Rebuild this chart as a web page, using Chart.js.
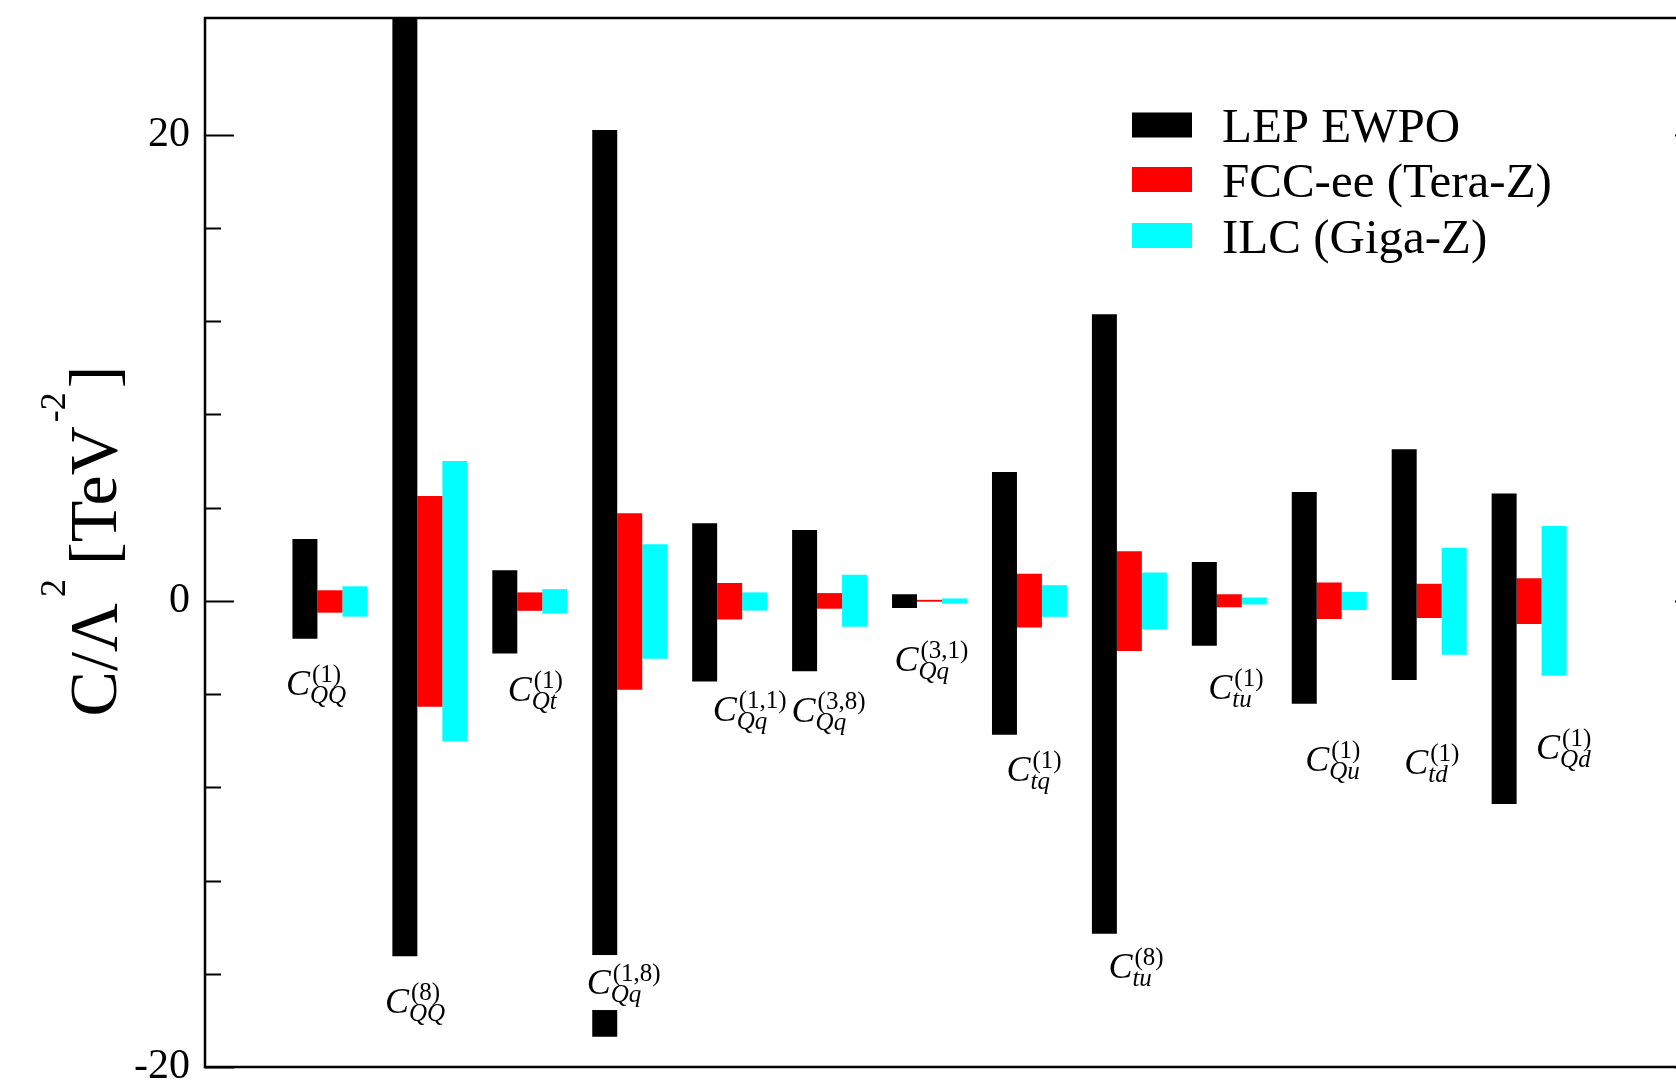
<!DOCTYPE html>
<html lang="en">
<head>
<meta charset="UTF-8" />
<title>Four-quark operator bounds</title>
<script src="https://cdn.jsdelivr.net/npm/chart.js"></script>
<style>
  html, body { margin: 0; padding: 0; background: #fff; overflow: hidden; }
  #wrap { width: 1705px; height: 1083px; }
</style>
</head>
<body>
<div id="wrap"><canvas id="bounds" width="1705" height="1083"></canvas></div>
<script>
// operators, written as C^{sup}_{sub}
const opSup = ['(1)', '(8)', '(1)', '(1,8)', '(1,1)', '(3,8)', '(3,1)', '(1)', '(8)', '(1)', '(1)', '(1)', '(1)'];
const opSub = ['QQ', 'QQ', 'Qt', 'Qq', 'Qq', 'Qq', 'Qq', 'tq', 'tu', 'tu', 'Qu', 'td', 'Qd'];

const seriesNames = ['LEP EWPO', 'FCC-ee (Tera-Z)', 'ILC (Giga-Z)'];

// bounds on C/Lambda^2 in TeV^-2
const lepLow  = [-1.63, -15.25, -2.26, -18.7, -3.46, -3.02, -0.31, -5.75, -14.28, -1.93, -4.42, -3.40, -8.72];
const lepHigh = [ 2.65,  27.0,   1.31,  20.2,  3.33,  3.04,  0.28,  5.52,  12.29,  1.66,  4.67,  6.50,  4.60];
const fccLow  = [-0.51, -4.55, -0.43, -3.82, -0.80, -0.34, -0.04, -1.15, -2.15, -0.28, -0.78, -0.74, -1.00];
const fccHigh = [ 0.45,  4.50,  0.36,  3.76,  0.76,  0.33,  0.04,  1.16,  2.13,  0.28,  0.78,  0.73,  0.97];
const ilcLow  = [-0.68, -6.03, -0.55, -2.49, -0.42, -1.11, -0.12, -0.69, -1.23, -0.16, -0.40, -2.31, -3.22];
const ilcHigh = [ 0.62,  6.00,  0.50,  2.42,  0.36,  1.12,  0.10,  0.67,  1.21,  0.14,  0.38,  2.28,  3.21];

const yLabelled = [-20, 0, 20];

const colors = ['#000000', '#ff0000', '#00ffff'];
const lows = [lepLow, fccLow, ilcLow];
const highs = [lepHigh, fccHigh, ilcHigh];

// where each operator name sits: [offset from its group, value of the baseline]
const labelAt = [
  [-0.19, -4.04], [-0.20, -17.7], [0.03, -4.32], [-0.18, -16.87], [0.08, -5.16],
  [-0.13, -5.19], [-0.10, -3.01], [0.02, -7.75], [0.04, -16.18], [0.04, -4.2],
  [0.01, -7.29], [0.0, -7.44], [0.32, -6.79]
];

const SERIF = '"Liberation Serif", "Times New Roman", serif';

function drawOperators(ctx, x, y) {
  ctx.textAlign = 'left';
  ctx.textBaseline = 'alphabetic';
  opSub.forEach((sub, i) => {
    const px = x.getPixelForValue(i + 1 + labelAt[i][0]);
    const py = y.getPixelForValue(labelAt[i][1]);
    ctx.font = '25px ' + SERIF;
    const supW = ctx.measureText(opSup[i]).width;
    ctx.font = 'italic 25px ' + SERIF;
    const subW = ctx.measureText(sub).width;
    const right = px + Math.max(26 + supW, 24 + subW);
    // the name blanks out whatever bar runs behind it
    ctx.fillStyle = '#fff';
    ctx.fillRect(px - 3, py - 39, right - px + 6, 55);
    ctx.fillStyle = '#000';
    ctx.font = 'italic 36px ' + SERIF;
    ctx.fillText('C', px, py);
    ctx.font = '25px ' + SERIF;
    ctx.fillText(opSup[i], px + 26, py - 13);
    ctx.font = 'italic 25px ' + SERIF;
    ctx.fillText(sub, px + 24, py + 8);
  });
}

function drawTitle(ctx) {
  const F = 68, S = 36, raise = 51;
  // [text, superscript?, space before, space after]
  const parts = [['C/\u039B', 0, 0, 0], ['2', 1, 6, 14], ['[TeV', 0, 0, 0], ['-2', 1, 4, 4], [']', 0, 0, 0]];
  let total = 0;
  const widths = parts.map(([t, sup, pre, post]) => {
    ctx.font = (sup ? S : F) + 'px ' + SERIF;
    const w = pre + ctx.measureText(t).width + post;
    total += w;
    return w;
  });
  ctx.save();
  ctx.translate(116, 541);
  ctx.rotate(-Math.PI / 2);
  ctx.fillStyle = '#000';
  ctx.textAlign = 'left';
  ctx.textBaseline = 'alphabetic';
  let cx = -total / 2;
  parts.forEach(([t, sup, pre], k) => {
    ctx.font = (sup ? S : F) + 'px ' + SERIF;
    ctx.fillText(t, cx + pre, sup ? -raise : 0);
    cx += widths[k];
  });
  ctx.restore();
}

function drawLegend(ctx) {
  const rows = [125, 179.5, 235.5];
  ctx.textAlign = 'left';
  ctx.textBaseline = 'alphabetic';
  seriesNames.forEach((name, k) => {
    ctx.fillStyle = colors[k];
    ctx.fillRect(1132, rows[k] - 12.5, 60, 25);
    ctx.fillStyle = '#000';
    ctx.font = '49px ' + SERIF;
    ctx.fillText(name, 1222, rows[k] + 17);
  });
}

const decorations = {
  id: 'decorations',
  afterDatasetsDraw(chart) {
    const {ctx, chartArea: a, scales: {x, y}} = chart;
    ctx.save();
    drawOperators(ctx, x, y);

    // inward ticks, long on the labelled values
    ctx.strokeStyle = '#000';
    ctx.lineWidth = 2;
    y.ticks.forEach(t => {
      if (t.value % 4 !== 0) return;
      const len = yLabelled.includes(t.value) ? 29 : 16;
      const py = Math.round(y.getPixelForValue(t.value)) + 0.5;
      ctx.beginPath();
      ctx.moveTo(a.left, py); ctx.lineTo(a.left + len, py);
      ctx.moveTo(a.right - len, py); ctx.lineTo(a.right, py);
      ctx.stroke();
    });

    ctx.lineWidth = 2.5;
    ctx.strokeRect(a.left, a.top, a.right - a.left, a.bottom - a.top);

    drawLegend(ctx);
    drawTitle(ctx);
    ctx.restore();
  }
};

Chart.defaults.font.family = SERIF;

new Chart(document.getElementById('bounds'), {
  type: 'bar',
  data: {
    datasets: seriesNames.map((name, k) => ({
      label: name,
      data: lows[k].map((lo, i) => ({x: i + 1.25, y: [lo, highs[k][i]]})),
      backgroundColor: colors[k],
      borderWidth: 0,
      categoryPercentage: 0.75,
      barPercentage: 1.0
    }))
  },
  options: {
    responsive: false,
    devicePixelRatio: 1,
    animation: false,
    layout: {padding: {left: 0, top: 18, right: 1, bottom: 16}},
    plugins: {legend: {display: false}, tooltip: {enabled: false}},
    scales: {
      x: {type: 'linear', min: 0, max: 15, offset: false, display: false, ticks: {stepSize: 1}},
      y: {
        min: -20,
        max: 25,
        ticks: {
          stepSize: 4,
          padding: 15,
          color: '#000',
          font: {size: 42, family: SERIF},
          callback: v => yLabelled.includes(v) ? String(v) : ''
        },
        grid: {display: false, drawTicks: false},
        border: {display: false},
        afterFit(s) { s.width = 205; s.paddingTop = 0; s.paddingBottom = 0; }
      }
    }
  },
  plugins: [decorations]
});
</script>
</body>
</html>
